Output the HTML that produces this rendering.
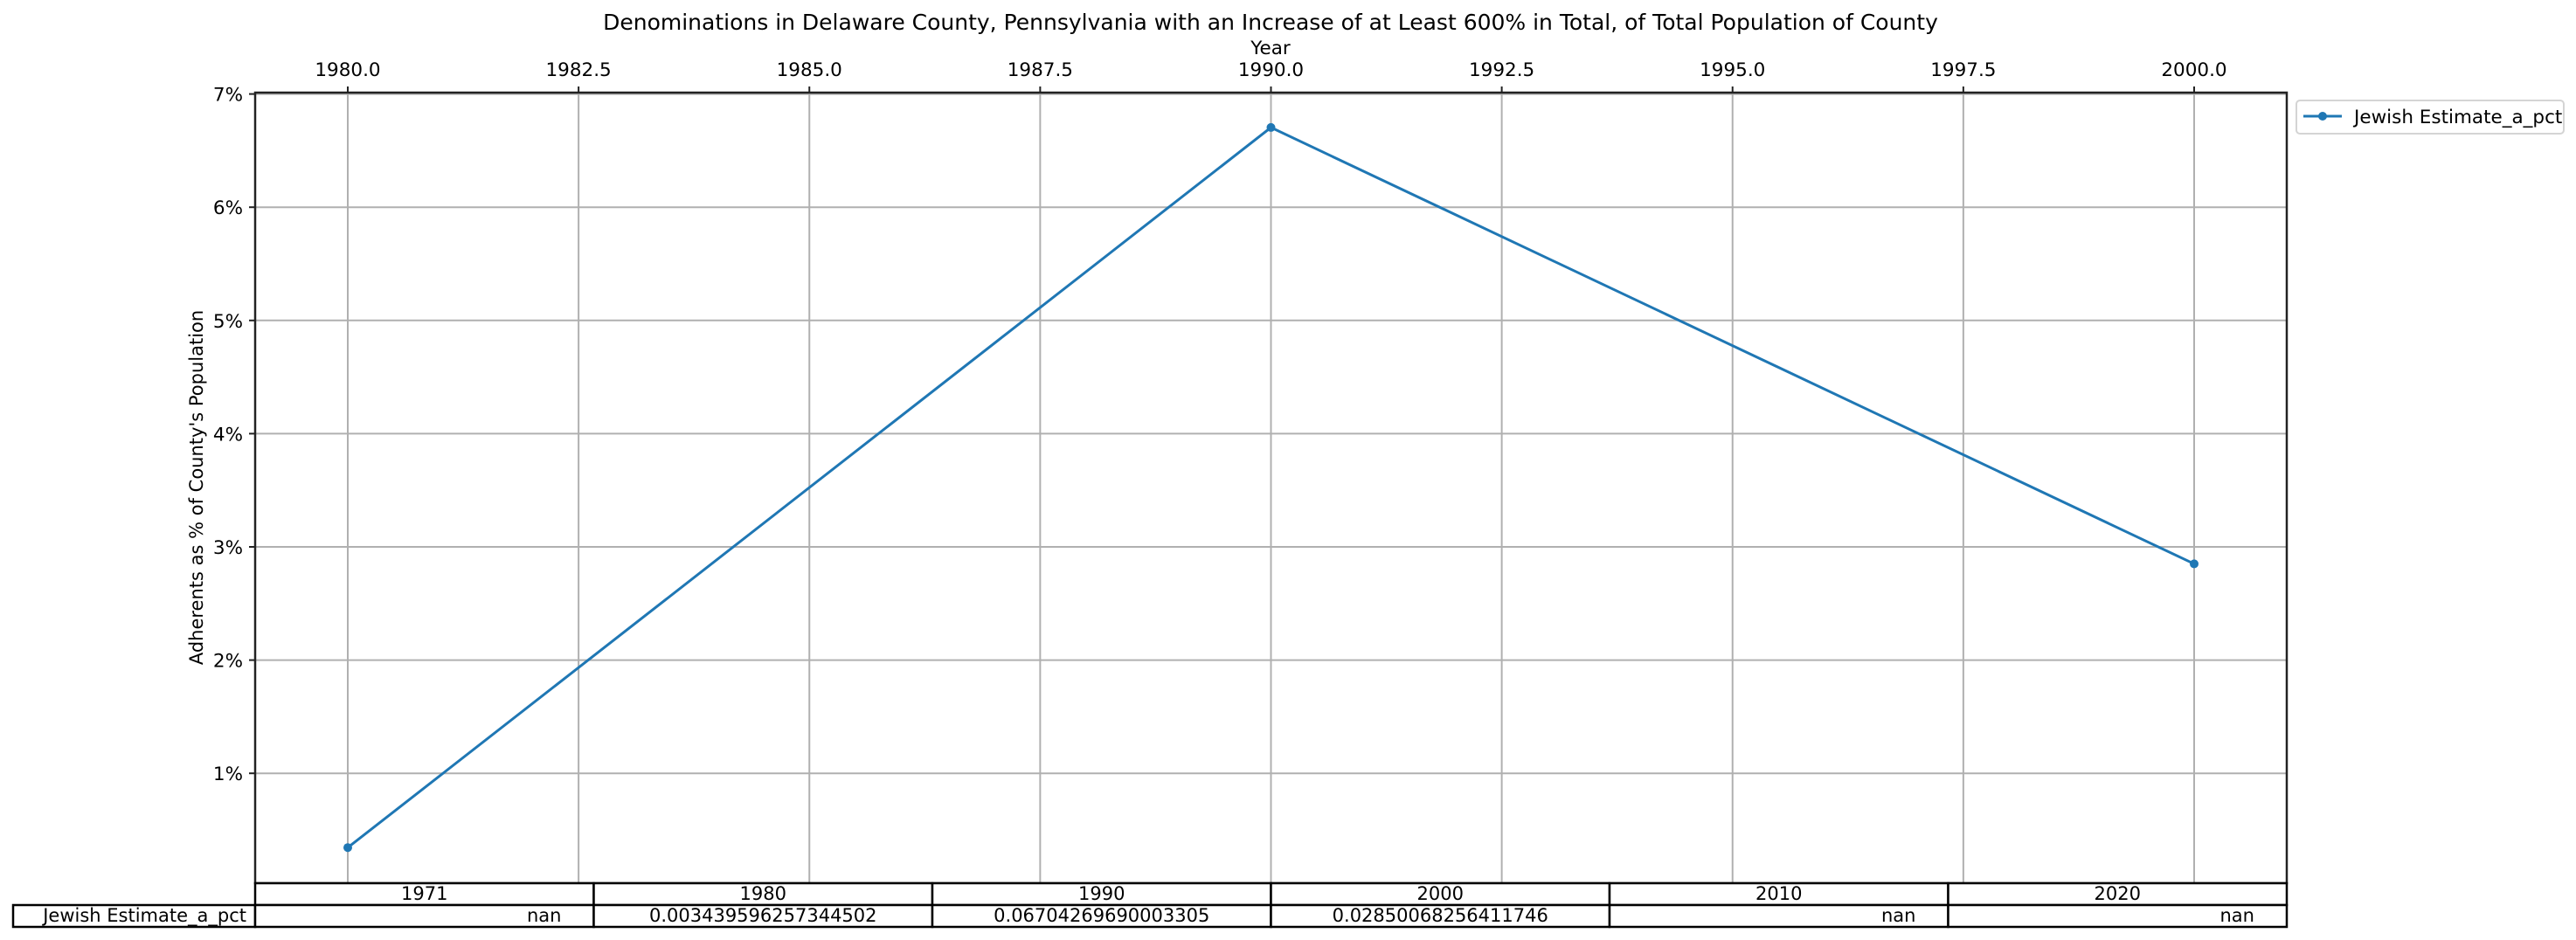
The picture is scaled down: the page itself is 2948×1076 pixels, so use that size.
<!DOCTYPE html>
<html><head><meta charset="utf-8">
<style>
body{margin:0;background:#fff;}
svg{display:block;font-family:"DejaVu Sans","Liberation Sans",sans-serif;}
</style></head>
<body>
<svg id="chart" width="2948" height="1076" viewBox="0 0 2948 1076" xmlns="http://www.w3.org/2000/svg">
<text x="1454" y="34" font-size="25" text-anchor="middle">Denominations in Delaware County, Pennsylvania with an Increase of at Least 600% in Total, of Total Population of County</text>
<text x="1454" y="62" font-size="21.5" text-anchor="middle">Year</text>
<text transform="translate(232,558) rotate(-90)" font-size="21" text-anchor="middle">Adherents as % of County's Population</text>
<g id="grid"></g>
<g id="ticks"></g>
<g id="series"></g>
<rect x="292" y="106" width="2325" height="905" fill="none" stroke="#222" stroke-width="2.5"/>
<g id="table"></g>
<g>
<rect x="2628" y="115" width="306" height="38" rx="4" fill="#fff" stroke="#d4d4d4" stroke-width="2"/>
<line x1="2636" y1="133" x2="2680" y2="133" stroke="#1f77b4" stroke-width="3"/>
<circle cx="2658" cy="133" r="5" fill="#1f77b4"/>
<text x="2694" y="141" font-size="21.5">Jewish Estimate_a_pct</text>
</g>
</svg>
<script>
const years = [1980, 1990, 2000];
const values = [0.3439596257344502, 6.704269690003305, 2.850068256411746];
const xTicks = [1980, 1982.5, 1985, 1987.5, 1990, 1992.5, 1995, 1997.5, 2000];
const yTicks = [1, 2, 3, 4, 5, 6, 7];
const tableCols = ["1971", "1980", "1990", "2000", "2010", "2020"];
const tableVals = ["nan", "0.003439596257344502", "0.06704269690003305", "0.02850068256411746", "nan", "nan"];

const NS = "http://www.w3.org/2000/svg";
const L = 292, R = 2617, T = 106, B = 1011;
function xs(v){ return 398 + (v - 1980) * 105.65; }
function ys(v){ return 1014.8 - v * 129.6; }
function mk(tag, attrs, parent){ const e = document.createElementNS(NS, tag); for (const k in attrs) e.setAttribute(k, attrs[k]); parent.appendChild(e); return e; }
const grid = document.getElementById('grid'), ticks = document.getElementById('ticks'), series = document.getElementById('series'), table = document.getElementById('table');

xTicks.forEach(t => {
  const x = xs(t);
  const g = mk('line', {x1:x, y1:T, x2:x, y2:B, stroke:'#b0b0b0', 'stroke-width':2}, grid);
  
  
  mk('line', {x1:x, y1:T, x2:x, y2:T-7, stroke:'#222', 'stroke-width':2}, ticks);
  const tx = mk('text', {x:x, y:87, 'font-size':21.5, 'text-anchor':'middle'}, ticks);
  tx.textContent = t.toFixed(1);
  
  
});
yTicks.forEach(t => {
  const y = ys(t);
  const g = mk('line', {x1:L, y1:y, x2:R, y2:y, stroke:'#b0b0b0', 'stroke-width':2}, grid);
  
  
  mk('line', {x1:L, y1:y, x2:L-7, y2:y, stroke:'#222', 'stroke-width':2}, ticks);
  const tx = mk('text', {x:278, y:y+8, 'font-size':21.5, 'text-anchor':'end'}, ticks);
  tx.textContent = t + '%';
  
  
});

const pts = years.map((y, i) => xs(y) + ',' + ys(values[i])).join(' ');
const line = mk('polyline', {points:pts, fill:'none', stroke:'#1f77b4', 'stroke-width':3}, series);


years.forEach((y, i) => {
  const c = mk('circle', {cx:xs(y), cy:ys(values[i]), r:5, fill:'#1f77b4'}, series);
  
  
});

const cw = (R - L) / tableCols.length;
const r1 = 1011, r2 = 1036, r3 = 1061;
const lab = mk('rect', {x:15, y:r2, width:L-15, height:r3-r2, fill:'#fff', stroke:'#000', 'stroke-width':2.5}, table);


const lt = mk('text', {x:L-10, y:r2+19, 'font-size':21, 'text-anchor':'end'}, table);
lt.textContent = 'Jewish Estimate_a_pct';
tableCols.forEach((c, i) => {
  const x = L + i * cw;
  const h = mk('rect', {x:x, y:r1, width:cw, height:r2-r1, fill:'#fff', stroke:'#000', 'stroke-width':2.5}, table);
  
  
  const ht = mk('text', {x:x+cw/2, y:r1+19, 'font-size':21, 'text-anchor':'middle'}, table);
  ht.textContent = c;
  const d = mk('rect', {x:x, y:r2, width:cw, height:r3-r2, fill:'#fff', stroke:'#000', 'stroke-width':2.5}, table);
  
  
  const isNan = tableVals[i] === 'nan';
  const dt = mk('text', {x: isNan ? x+cw-37 : x+cw/2, y:r2+19, 'font-size':21, 'text-anchor': isNan ? 'end' : 'middle'}, table);
  dt.textContent = tableVals[i];
});
</script>
</body></html>
